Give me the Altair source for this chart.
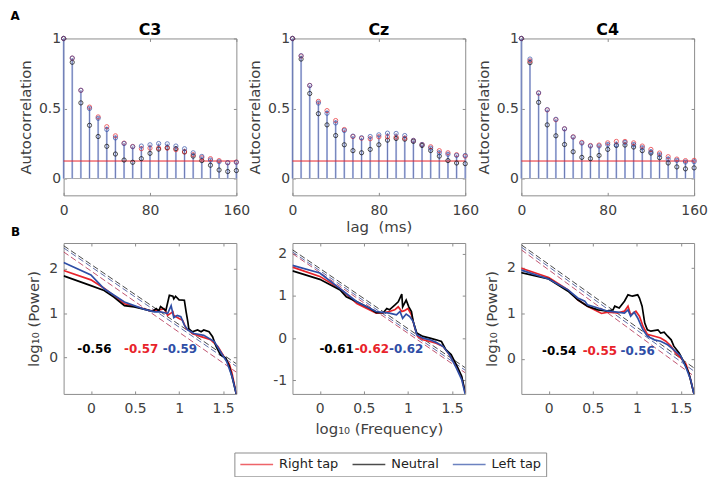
import altair as alt
import pandas as pd

FONT = "DejaVu Sans"
RED = "#e8232a"
BLACK = "#000000"
BLUE = "#2f4ea6"
GRAY = "#8c8c8c"
TXT = "#404040"
CONDITIONS = ["Right tap", "Neutral", "Left tap"]
COND_COLORS = [RED, BLACK, BLUE]
EXP_COLORS = [BLACK, RED, BLUE]
FIT_COLORS = {"Right tap": "#b84060", "Neutral": "#333333", "Left tap": "#4a5a9c"}

# ---------------- Panel A : autocorrelation ----------------
LAGS = [0, 8, 16, 24, 32, 40, 48, 56, 64, 72, 80, 88, 96, 104, 112, 120, 128, 136, 144, 152, 160]
THRESHOLD = 0.125

C3_RIGHT = [1.0, 0.86, 0.63, 0.51, 0.44, 0.37, 0.305, 0.253, 0.229, 0.213, 0.217, 0.217, 0.217, 0.206, 0.19, 0.17, 0.149, 0.142, 0.128, 0.113, 0.118]
C3_LEFT = [1.0, 0.86, 0.63, 0.50, 0.43, 0.35, 0.29, 0.25, 0.227, 0.232, 0.241, 0.25, 0.248, 0.232, 0.213, 0.184, 0.158, 0.132, 0.12, 0.113, 0.116]
C3_NEUTRAL = [1.0, 0.83, 0.54, 0.38, 0.30, 0.23, 0.175, 0.132, 0.116, 0.142, 0.18, 0.21, 0.22, 0.213, 0.19, 0.16, 0.128, 0.095, 0.061, 0.05, 0.057]

CZ_RIGHT = [1.0, 0.875, 0.665, 0.551, 0.485, 0.414, 0.35, 0.30, 0.288, 0.284, 0.298, 0.298, 0.296, 0.288, 0.272, 0.243, 0.227, 0.199, 0.184, 0.17, 0.16]
CZ_LEFT = [1.0, 0.877, 0.664, 0.539, 0.466, 0.397, 0.343, 0.303, 0.291, 0.30, 0.312, 0.324, 0.322, 0.307, 0.272, 0.243, 0.217, 0.184, 0.173, 0.165, 0.165]
CZ_NEUTRAL = [1.0, 0.853, 0.607, 0.463, 0.383, 0.307, 0.241, 0.199, 0.184, 0.208, 0.241, 0.274, 0.286, 0.281, 0.265, 0.236, 0.20, 0.16, 0.128, 0.111, 0.106]

C4_RIGHT = [1.0, 0.84, 0.61, 0.49, 0.42, 0.355, 0.298, 0.258, 0.236, 0.239, 0.255, 0.265, 0.265, 0.255, 0.232, 0.208, 0.182, 0.156, 0.139, 0.128, 0.13]
C4_LEFT = [1.0, 0.853, 0.612, 0.492, 0.423, 0.355, 0.296, 0.253, 0.232, 0.232, 0.243, 0.241, 0.258, 0.243, 0.22, 0.191, 0.17, 0.139, 0.13, 0.118, 0.12]
C4_NEUTRAL = [1.0, 0.827, 0.544, 0.383, 0.305, 0.243, 0.191, 0.151, 0.142, 0.165, 0.208, 0.236, 0.239, 0.225, 0.199, 0.182, 0.149, 0.111, 0.083, 0.069, 0.076]

# ---------------- Panel B : log-log spectra ----------------
L_NEU_X = [-0.31, 0, 0.15, 0.26, 0.38, 0.49, 0.60, 0.70, 0.74, 0.77, 0.79, 0.85, 0.89, 0.93, 0.94, 0.96, 1.00, 1.06, 1.08, 1.10, 1.11, 1.15, 1.21, 1.25, 1.28, 1.34, 1.38, 1.42, 1.47, 1.53, 1.57, 1.61, 1.65]
L_NEU_Y = [1.84, 1.62, 1.51, 1.36, 1.17, 1.14, 1.09, 1.04, 1.10, 1.05, 1.15, 1.06, 1.40, 1.38, 1.32, 1.38, 1.30, 1.29, 1.03, 0.80, 0.65, 0.58, 0.62, 0.58, 0.62, 0.58, 0.47, 0.25, 0.06, -0.01, -0.20, -0.50, -0.83]
L_RIGHT_X = [-0.31, 0, 0.15, 0.38, 0.60, 0.68, 0.79, 0.83, 0.87, 0.93, 0.94, 1.00, 1.04, 1.08, 1.11, 1.15, 1.25, 1.36, 1.44, 1.51, 1.57, 1.60, 1.65]
L_RIGHT_Y = [1.96, 1.75, 1.56, 1.21, 1.10, 1.05, 1.08, 1.10, 0.95, 1.03, 0.95, 0.88, 0.84, 0.65, 0.62, 0.54, 0.47, 0.40, 0.25, 0.02, -0.15, -0.35, -0.83]
L_LEFT_X = [-0.31, 0, 0.15, 0.38, 0.60, 0.72, 0.79, 0.87, 0.91, 0.94, 0.98, 1.02, 1.06, 1.10, 1.17, 1.28, 1.40, 1.47, 1.54, 1.60, 1.65]
L_LEFT_Y = [2.14, 1.86, 1.55, 1.25, 1.09, 1.03, 1.03, 0.99, 1.17, 0.90, 0.95, 0.92, 0.73, 0.62, 0.54, 0.50, 0.36, 0.13, -0.09, -0.42, -0.83]

M_NEU_X = [-0.31, 0, 0.23, 0.30, 0.42, 0.57, 0.64, 0.72, 0.76, 0.79, 0.85, 0.89, 0.93, 0.94, 0.98, 1.01, 1.04, 1.06, 1.10, 1.17, 1.25, 1.32, 1.38, 1.43, 1.49, 1.55, 1.61, 1.65]
M_NEU_Y = [1.59, 1.39, 1.14, 0.98, 0.86, 0.70, 0.60, 0.60, 0.70, 0.67, 0.78, 0.86, 1.04, 0.74, 0.90, 0.74, 0.63, 0.39, 0.12, 0.04, 0.00, -0.04, -0.08, -0.27, -0.39, -0.63, -0.90, -1.29]
M_RIGHT_X = [-0.31, 0, 0.23, 0.42, 0.64, 0.72, 0.79, 0.85, 0.89, 0.93, 0.96, 1.00, 1.04, 1.08, 1.11, 1.17, 1.25, 1.32, 1.40, 1.47, 1.55, 1.61, 1.65]
M_RIGHT_Y = [1.68, 1.46, 1.17, 0.82, 0.59, 0.60, 0.63, 0.67, 0.74, 0.63, 0.65, 0.70, 0.55, 0.23, 0.04, -0.04, -0.08, -0.12, -0.20, -0.39, -0.67, -0.94, -1.29]
M_LEFT_X = [-0.31, 0, 0.23, 0.42, 0.64, 0.79, 0.87, 0.91, 0.94, 0.98, 1.02, 1.06, 1.10, 1.17, 1.25, 1.32, 1.40, 1.47, 1.55, 1.61, 1.65]
M_LEFT_Y = [1.72, 1.54, 1.17, 0.86, 0.63, 0.59, 0.55, 0.63, 0.47, 0.57, 0.51, 0.39, 0.08, 0.00, -0.04, -0.10, -0.20, -0.39, -0.71, -0.98, -1.33]

R_NEU_X = [-0.32, 0, 0.22, 0.33, 0.44, 0.56, 0.67, 0.73, 0.75, 0.80, 0.86, 0.90, 0.95, 1.01, 1.03, 1.06, 1.09, 1.12, 1.16, 1.24, 1.27, 1.31, 1.35, 1.39, 1.42, 1.48, 1.54, 1.59, 1.65]
R_NEU_Y = [1.90, 1.76, 1.49, 1.30, 1.16, 1.08, 1.05, 1.08, 1.16, 1.12, 1.27, 1.41, 1.38, 1.41, 1.34, 1.16, 0.79, 0.64, 0.61, 0.64, 0.57, 0.59, 0.50, 0.42, 0.28, 0.13, -0.09, -0.31, -0.78]
R_RIGHT_X = [-0.32, 0, 0.22, 0.33, 0.44, 0.60, 0.67, 0.78, 0.86, 0.90, 0.93, 0.99, 1.03, 1.07, 1.12, 1.20, 1.27, 1.33, 1.39, 1.44, 1.50, 1.56, 1.61, 1.65]
R_RIGHT_Y = [2.00, 1.79, 1.52, 1.30, 1.16, 1.00, 1.03, 1.01, 1.05, 1.16, 0.97, 1.05, 0.94, 0.72, 0.54, 0.50, 0.46, 0.39, 0.28, 0.13, 0.02, -0.12, -0.45, -0.78]
R_LEFT_X = [-0.32, 0, 0.22, 0.33, 0.41, 0.44, 0.56, 0.67, 0.78, 0.86, 0.90, 0.93, 0.97, 1.01, 1.07, 1.12, 1.20, 1.27, 1.35, 1.42, 1.50, 1.56, 1.61, 1.65]
R_LEFT_Y = [1.96, 1.76, 1.52, 1.34, 1.27, 1.19, 1.12, 1.05, 1.03, 1.01, 1.08, 0.94, 1.03, 0.90, 0.64, 0.50, 0.42, 0.39, 0.31, 0.20, 0.06, -0.20, -0.45, -0.78]

FREQ_DOMAIN = [-0.31, 1.65]
FIT_X = [-0.31, 1.65]
L_FITS = {"Neutral": [2.52, -0.14], "Left tap": [2.47, -0.20], "Right tap": [2.38, -0.33]}
M_FITS = {"Neutral": [2.09, -0.70], "Left tap": [2.04, -0.76], "Right tap": [2.00, -0.82]}
R_FITS = {"Neutral": [2.51, -0.20], "Left tap": [2.46, -0.27], "Right tap": [2.40, -0.38]}

L_EXP = ["-0.56", "-0.57", "-0.59"]
M_EXP = ["-0.61", "-0.62", "-0.62"]
R_EXP = ["-0.54", "-0.55", "-0.56"]
L_EXP_X = [0.04, 0.57, 1.01]
M_EXP_X = [0.19, 0.59, 0.98]
R_EXP_X = [0.12, 0.58, 1.01]
L_EXP_Y = 0.20
M_EXP_Y = -0.26
R_EXP_Y = 0.18

A_W, A_H = 174, 158
B_W, B_H = 174, 152


def box_ticks(chart_data, xfield, yfield, xs, ys, xvals, yvals):
    """Invisible layer that only carries the inward ticks of the top and right frame sides."""
    return alt.Chart(chart_data).mark_point(opacity=0).encode(
        x=alt.X(xfield, scale=xs, axis=alt.Axis(orient="top", values=xvals, labels=False, title=None)),
        y=alt.Y(yfield, scale=ys, axis=alt.Axis(orient="right", values=yvals, labels=False, title=None)),
    )


def acf_chart(title, right, neutral, left, show_xtitle):
    rows = []
    for cond, col, vals in [("Neutral", BLACK, neutral), ("Right tap", RED, right), ("Left tap", BLUE, left)]:
        for lag, v in zip(LAGS, vals):
            rows.append({"lag": lag, "value": v, "col": col})
    pts = pd.DataFrame(rows)
    stems = pd.DataFrame({
        "lag": LAGS,
        "top": [max(a, b, c) for a, b, c in zip(right, neutral, left)],
        "base": [0] * len(LAGS),
    })
    xs = alt.Scale(domain=[0, 160], nice=False, zero=False)
    ys = alt.Scale(domain=[-0.12, 1.0], nice=False, zero=False)
    xaxis = alt.Axis(values=[0, 80, 160], labelPadding=8, titlePadding=2,
                     title="lag\u00a0 (ms)" if show_xtitle else None)
    yaxis = alt.Axis(values=[0, 0.5, 1], labelPadding=3, titlePadding=5, title="Autocorrelation",
                     labelExpr="'' + datum.value")

    zero = alt.Chart(pd.DataFrame({"v": [0]})).mark_rule(color="#a8a8a8", strokeWidth=1).encode(
        y=alt.Y("v:Q", scale=ys, axis=None))
    thr = alt.Chart(pd.DataFrame({"v": [THRESHOLD]})).mark_rule(color=RED, strokeWidth=1).encode(
        y=alt.Y("v:Q", scale=ys, axis=None))
    stem_light = alt.Chart(stems).mark_rule(color="#c3cdee", strokeWidth=2).encode(
        x=alt.X("lag:Q", scale=xs, axis=None), y=alt.Y("top:Q", scale=ys, axis=None), y2="base:Q")
    stem_dark = alt.Chart(stems).mark_rule(color="#6170ad", strokeWidth=0.9).encode(
        x=alt.X("lag:Q", scale=xs, axis=None), y=alt.Y("top:Q", scale=ys, axis=None), y2="base:Q")
    points = alt.Chart(pts).mark_point(shape="circle", filled=False, size=18, strokeWidth=1).encode(
        x=alt.X("lag:Q", scale=xs, axis=xaxis), y=alt.Y("value:Q", scale=ys, axis=yaxis),
        color=alt.Color("col:N", scale=None))
    ticks = box_ticks(pts, "lag:Q", "value:Q", xs, ys, [0, 80, 160], [0, 0.5, 1])
    return alt.layer(zero, stem_light, stem_dark, thr, points, ticks).resolve_axis(
        x="independent", y="independent").properties(
        width=A_W, height=A_H,
        title=alt.TitleParams(title, fontSize=16, fontWeight="bold", font=FONT, color="#000",
                              anchor="middle", frame="group", offset=-7))


def psd_chart(curves, fits, exps, exp_x, exp_y, ydomain, yvalues, show_ytitle, show_xtitle, label=None):
    rows = []
    for cond, (xv, yv) in curves.items():
        for a, b in zip(xv, yv):
            rows.append({"f": a, "p": b, "cond": cond})
    cdf = pd.DataFrame(rows)
    frows = []
    for cond, yv in fits.items():
        for a, b in zip(FIT_X, yv):
            frows.append({"f": a, "p": b, "cond": cond, "col": FIT_COLORS[cond]})
    fdf = pd.DataFrame(frows)
    edf = pd.DataFrame({"f": exp_x, "p": [exp_y] * 3, "t": exps, "col": EXP_COLORS})

    xs = alt.Scale(domain=FREQ_DOMAIN, nice=False, zero=False)
    ys = alt.Scale(domain=ydomain, nice=False, zero=False)
    xaxis = alt.Axis(values=[0, 0.5, 1, 1.5], labelPadding=8, titlePadding=6,
                     labelExpr="'' + datum.value",
                     title="log\u2081\u2080 (Frequency)" if show_xtitle else None)
    yaxis = alt.Axis(values=yvalues, labelPadding=6, titlePadding=7, labelExpr="'' + datum.value",
                     title="log\u2081\u2080 (Power)" if show_ytitle else None)
    Xn = alt.X("f:Q", scale=xs, axis=None)
    Yn = alt.Y("p:Q", scale=ys, axis=None)

    fit = alt.Chart(fdf).mark_line(strokeDash=[6, 3], strokeWidth=0.9, clip=True).encode(
        x=Xn, y=Yn, detail="cond:N", color=alt.Color("col:N", scale=None))
    lines = alt.Chart(cdf).mark_line(strokeWidth=1.7, clip=True).encode(
        x=alt.X("f:Q", scale=xs, axis=xaxis), y=alt.Y("p:Q", scale=ys, axis=yaxis),
        color=alt.Color("cond:N", scale=alt.Scale(domain=CONDITIONS, range=COND_COLORS),
                        legend=alt.Legend(title=None, orient="none", legendX=172, legendY=417,
                                          direction="horizontal", columns=3,
                                          symbolType="M-1,0H4.5", symbolSize=144,
                                          symbolStrokeWidth=1.6, labelOffset=26,
                                          columnPadding=10, padding=5,
                                          strokeColor=GRAY, fillColor="white",
                                          labelFont=FONT, labelFontSize=13, labelColor="#222")),
        order=alt.Order("f:Q"))
    txt = alt.Chart(edf).mark_text(font=FONT, fontSize=12, fontWeight="bold", baseline="middle",
                                   align="center").encode(
        x=Xn, y=Yn, text="t:N", color=alt.Color("col:N", scale=None))
    ticks = box_ticks(cdf, "f:Q", "p:Q", xs, ys, [0, 0.5, 1, 1.5], yvalues)
    layers = [fit, lines, txt, ticks]
    if label:
        layers.append(alt.Chart(pd.DataFrame({"t": [label]})).mark_text(
            align="left", baseline="top", font=FONT, fontSize=12, fontWeight="bold", color="#000"
        ).encode(x=alt.value(-53), y=alt.value(-16), text="t:N"))
    return alt.layer(*layers).resolve_axis(x="independent", y="independent").properties(
        width=B_W, height=B_H)


a1 = acf_chart("C3", C3_RIGHT, C3_NEUTRAL, C3_LEFT, False)
a2 = acf_chart("Cz", CZ_RIGHT, CZ_NEUTRAL, CZ_LEFT, True)
a3 = acf_chart("C4", C4_RIGHT, C4_NEUTRAL, C4_LEFT, False)

b1 = psd_chart({"Right tap": (L_RIGHT_X, L_RIGHT_Y), "Neutral": (L_NEU_X, L_NEU_Y), "Left tap": (L_LEFT_X, L_LEFT_Y)},
               L_FITS, L_EXP, L_EXP_X, L_EXP_Y, [-0.82, 2.58], [0, 1, 2], True, False, label="B")
b2 = psd_chart({"Right tap": (M_RIGHT_X, M_RIGHT_Y), "Neutral": (M_NEU_X, M_NEU_Y), "Left tap": (M_LEFT_X, M_LEFT_Y)},
               M_FITS, M_EXP, M_EXP_X, M_EXP_Y, [-1.32, 2.25], [-1, 0, 1, 2], False, True)
b3 = psd_chart({"Right tap": (R_RIGHT_X, R_RIGHT_Y), "Neutral": (R_NEU_X, R_NEU_Y), "Left tap": (R_LEFT_X, R_LEFT_Y)},
               R_FITS, R_EXP, R_EXP_X, R_EXP_Y, [-0.77, 2.55], [0, 1, 2], True, False)

chart = alt.concat(a1, a2, a3, b1, b2, b3, columns=3, spacing={"row": 48, "column": 56.5},
                   bounds="flush").properties(
    padding={"left": 2, "top": 0, "right": 0, "bottom": 0},
    title=alt.TitleParams("A", fontSize=12, fontWeight="bold", font=FONT, color="#000",
                          anchor="start", frame="bounds", offset=-1)
).configure(font=FONT, background="white").configure_view(
    stroke=GRAY, strokeWidth=1
).configure_axis(
    domain=False, grid=False, tickColor=GRAY, tickSize=3, offset=-3, labelFlush=False,
    labelFont=FONT, labelFontSize=14, labelColor=TXT,
    titleFont=FONT, titleFontSize=15, titleColor=TXT, titleFontWeight="normal"
)

chart.save("out.html", embed_options={"renderer": "svg", "actions": False})
